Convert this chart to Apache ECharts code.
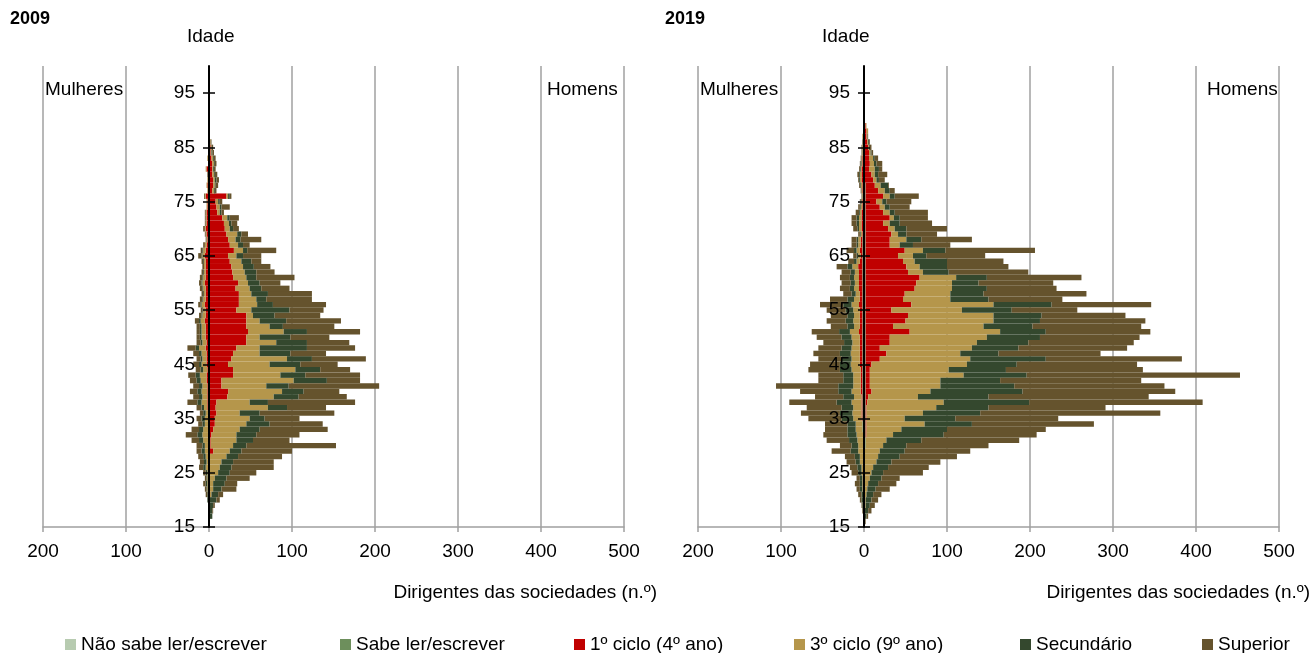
<!DOCTYPE html>
<html>
<head>
<meta charset="utf-8">
<title>Dirigentes das sociedades por idade</title>
<script src="https://cdn.jsdelivr.net/npm/echarts@6.0.0/dist/echarts.min.js"></script>
<style>
  html, body { margin: 0; padding: 0; background: #fff; }
  #chart { width: 1312px; height: 653px; }
</style>
</head>
<body>
<div id="chart"></div>
<script>
var FONT = '"Liberation Sans", Arial, sans-serif';

var names = ['Não sabe ler/escrever', 'Sabe ler/escrever', '1º ciclo (4º ano)', '3º ciclo (9º ano)', 'Secundário', 'Superior'];
var colors = ['#b7cbb0', '#6d8f5c', '#c00000', '#b5964b', '#34482e', '#65532d'];

// idade 15..100 no eixo; as séries começam nos 15 anos e acabam nos 89
var ages = [];
for (var a = 15; a <= 100; a++) ages.push(String(a));
var xTicks = [-200, -100, 0, 100, 200, 300, 400, 500];

// ---- 2009, homens (h) e mulheres (m) ----
var h09_ns = [0,0,0,0,0,0,0,0,0,0, 0,0,0,0,0,0,0,0,0,0, 0,0,0,0,0,0,0,0,0,0, 0,0,0,0,0,0,0,0,0,0,
  0,0,0,0,0,0,0,0,0,0, 0,0,0,0,0,0,0,0,0,0, 0,0,0,0,0,0,0,0,0,0, 0,0,0,0,0];
var h09_sl = [0,0,0,0,0,0,0,0,0,0, 0,0,0,0,0,0,0,0,0,0, 0,0,0,0,0,0,0,0,0,0, 0,0,0,0,0,0,0,0,0,0,
  0,0,0,1,1,1,1,1,1,1, 1,1,1,1,1,1,1,1,1,1, 1,1,1,1,1,1,1,1,0,0, 0,0,0,0,0];
var h09_c1 = [0,0,0,0,0,0,0,0,0,0,
  1,1,1,1,5,2,2,3,5,7,
  7,9,8,9,22,23,15,15,29,29,
  23,27,29,33,45,45,47,45,45,45,
  33,36,36,35,31,34,28,27,26,24,
  22,29,24,22,20,18,17,15,9,8,
  7,20,3,4,4,3,3,3,3,2,
  2,1,0,0,0];
var h09_c3 = [0,0,1,1,1,1,3,5,5,7,
  10,12,14,20,20,27,31,30,32,38,
  42,28,63,40,56,65,54,87,57,75,
  50,67,32,28,36,16,43,28,16,8,
  18,22,21,15,17,12,16,15,14,14,
  10,11,10,9,13,6,6,6,3,4,
  3,2,2,2,2,2,1,2,2,1,
  1,1,0,0,0];
var h09_sec = [0,0,3,3,4,8,8,10,14,14,
  14,14,14,14,14,16,20,24,24,28,
  18,24,23,22,30,26,27,40,30,30,
  37,30,37,57,37,37,28,16,32,26,
  46,19,12,20,14,14,12,14,13,12,
  8,5,6,6,5,4,3,3,2,2,
  2,2,1,1,2,1,1,1,1,1,
  0,0,0,0,0];
var h09_sup = [0,0,0,1,2,4,6,18,15,28,
  32,51,49,53,61,108,44,52,82,64,
  42,90,47,105,58,43,109,40,66,36,
  45,65,43,58,51,47,64,62,66,55,
  41,64,55,53,34,25,46,22,20,12,
  22,35,8,25,8,7,7,11,3,10,
  3,2,2,3,3,3,2,2,2,2,
  2,1,0,0,0];

var m09_ns = [0,0,0,0,0,0,0,0,0,0, 0,0,0,0,0,0,0,0,0,0, 0,0,0,0,0,0,0,0,0,0, 0,0,0,0,0,0,0,0,0,0,
  0,0,0,0,0,0,0,0,0,0, 0,0,0,0,0,0,0,0,0,0, 0,0,0,0,0,0,0,0,0,0, 0,0,0,0,0];
var m09_sl = [0,0,0,0,0,0,0,0,0,0,
  0,0,0,0,0,0,0,0,1,0,
  1,1,1,1,1,1,1,1,1,1,
  1,1,1,1,1,1,1,1,1,1,
  1,1,1,1,1,1,1,1,1,1,
  1,1,1,1,1,1,1,1,1,1,
  1,0,0,1,0,0,1,0,0,0,
  0,0,0,0,0];
var m09_c1 = [0,0,0,0,0,0,0,0,0,0,
  0,0,0,0,1,0,1,1,0,1,
  0,0,1,1,1,1,1,2,2,1,
  2,2,2,3,2,3,3,3,4,3,
  3,4,3,3,3,4,3,3,3,3,
  4,3,2,1,2,3,2,2,2,1,
  1,4,1,1,1,1,2,1,1,1,
  0,0,0,0,0];
var m09_c3 = [0,0,0,0,0,1,1,2,2,2,
  2,4,3,4,4,5,6,7,6,4,
  4,3,4,7,6,7,6,7,8,5,
  6,5,6,8,5,5,5,5,5,4,
  3,4,3,2,3,3,3,2,2,2,
  3,3,2,1,1,1,1,1,1,1,
  1,1,1,1,1,0,1,0,1,0,
  0,0,0,0,0];
var m09_sec = [0,0,0,0,1,1,1,1,2,1,
  2,3,3,3,4,3,5,6,5,3,
  4,3,3,5,4,5,4,5,5,3,
  3,2,3,4,2,2,2,2,2,1,
  1,1,1,1,1,1,1,1,0,1,
  1,1,0,0,0,0,0,0,0,0,
  0,0,0,0,0,0,0,0,0,0,
  0,0,0,0,0];
var m09_sup = [0,0,0,0,0,0,2,2,3,2,
  3,5,5,6,6,7,9,14,9,5,
  6,4,6,12,7,9,7,8,9,6,
  7,5,7,10,5,4,4,4,5,3,
  2,3,3,2,3,3,3,2,2,2,
  4,2,2,1,1,2,1,1,1,0,
  0,1,0,0,0,1,0,0,0,0,
  0,0,0,0,0];

// ---- 2019 ----
var h19_ns = [0,0,0,0,0,0,0,0,0,0,
  0,0,0,0,0,1,1,1,1,1,
  1,1,1,1,1,1,1,1,1,1,
  1,1,1,1,1,1,1,1,1,1,
  1,1,1,1,1,1,1,1,1,1,
  1,1,1,1,1,1,1,1,1,1,
  1,1,1,1,0,0,0,0,0,0,
  0,0,0,0,0];
var h19_sl = [0,0,0,0,0,0,0,0,0,0,
  0,0,0,0,0,1,1,1,1,1,
  1,1,1,1,1,1,1,1,1,1,
  1,1,1,1,1,1,1,1,1,1,
  1,1,1,1,1,1,1,1,1,1,
  1,1,1,1,1,1,1,1,1,1,
  1,1,1,1,1,1,1,1,0,0,
  0,0,0,0,0];
var h19_c1 = [0,0,0,0,0,0,0,0,0,0,
  0,0,0,0,0,0,0,1,1,1,
  1,1,1,2,3,7,5,5,5,5,
  7,17,25,17,29,29,53,33,48,51,
  31,55,45,47,59,61,65,51,49,45,
  39,47,29,29,31,27,21,29,21,17,
  13,21,15,11,10,8,5,6,6,6,
  5,4,3,3,2];
var h19_c3 = [0,0,1,1,2,2,3,4,5,7,
  9,11,15,17,19,21,25,32,42,70,
  46,68,84,92,60,71,85,85,113,95,
  115,109,89,111,105,117,109,109,106,103,
  85,99,57,55,45,43,44,18,16,14,
  18,22,12,20,8,8,8,5,8,6,
  7,8,8,7,4,4,7,5,5,2,
  1,1,1,2,1];
var h19_sec = [0,1,2,4,5,7,8,10,12,14,
  14,18,18,26,30,28,42,61,55,57,
  61,69,63,103,85,111,89,72,76,69,
  60,91,46,56,62,64,55,59,56,58,
  60,70,46,40,42,32,37,31,33,39,
  16,27,16,18,10,14,12,7,6,6,
  5,6,6,9,3,4,5,3,2,1,
  1,1,0,0,0];
var h19_sup = [0,1,2,4,6,8,10,17,22,22,
  48,49,59,69,79,99,118,112,119,147,
  124,217,141,209,193,184,181,170,257,165,
  145,164,123,131,127,120,126,131,127,101,
  79,120,89,124,84,90,114,96,74,68,
  71,108,45,61,37,49,39,34,40,24,
  30,29,6,1,7,11,4,7,4,2,
  2,1,1,0,0];

var m19_ns = [0,0,0,0,0,0,0,0,0,0,
  0,0,0,0,0,0,0,0,1,1,
  1,1,1,1,1,1,1,1,1,1,
  1,1,1,1,1,1,1,1,1,1,
  1,1,1,1,1,1,1,1,1,1,
  1,1,1,1,0,0,0,0,0,0,
  0,0,0,0,0,0,0,0,0,0,
  0,0,0,0,0];
var m19_sl = [0,0,0,0,0,0,0,0,0,0,
  0,0,1,1,1,1,1,1,1,1,
  1,1,1,1,1,1,1,1,1,1,
  1,1,1,1,1,1,1,1,1,1,
  1,1,1,1,1,1,1,1,1,1,
  1,1,1,1,1,1,1,1,1,1,
  1,0,1,1,1,1,1,1,1,0,
  0,0,0,0,0];
var m19_c1 = [0,0,0,0,0,0,0,0,0,0,
  0,0,0,0,0,0,0,0,0,0,
  1,1,1,1,1,2,2,2,2,2,
  3,3,3,3,3,3,4,3,3,3,
  3,4,3,3,4,4,4,4,5,3,
  2,3,2,2,1,2,2,2,2,1,
  1,1,1,1,2,2,2,1,1,1,
  1,1,1,1,0];
var m19_c3 = [0,0,0,0,1,1,1,2,2,2,
  3,3,4,4,6,6,7,8,8,8,
  10,11,10,12,9,11,9,9,9,11,
  11,10,11,10,9,10,11,7,8,7,
  8,9,7,5,6,5,6,5,7,4,
  3,4,3,3,2,3,3,3,2,2,
  1,1,1,2,2,2,1,1,1,1,
  1,0,1,0,0];
var m19_sec = [0,0,0,1,1,2,2,3,3,3,
  4,5,5,6,9,8,10,11,10,10,
  14,15,14,18,13,16,18,12,12,14,
  13,12,13,12,10,12,13,8,9,8,
  9,10,8,5,5,5,5,5,6,3,
  2,3,2,2,1,2,3,3,1,1,
  1,0,0,1,1,1,1,1,0,0,
  0,0,0,0,0];
var m19_sup = [0,0,0,1,1,2,4,4,6,4,
  8,9,11,12,23,14,27,29,27,27,
  40,47,42,57,34,46,75,30,30,38,
  36,28,32,28,25,30,33,20,23,20,
  23,28,21,10,12,11,12,11,13,7,
  4,9,6,6,2,5,6,6,4,2,
  1,1,1,1,1,2,1,1,1,1,
  1,1,0,0,0];

var myChart = echarts.init(document.getElementById('chart'), null, { renderer: 'canvas' });

function showTick(index, value) {
  return (Number(value) - 15) % 10 === 0;
}

// mulheres à esquerda (negativo), homens à direita, tudo na mesma pilha
function addPanel(series, gi, stack, mulheres, homens) {
  for (var k = 0; k < 6; k++) {
    var common = {
      name: names[k], type: 'bar', xAxisIndex: gi, yAxisIndex: gi * 2, stack: stack,
      barCategoryGap: '0%', animation: false, silent: true,
      itemStyle: { color: colors[k] }
    };
    series.push(Object.assign({}, common, {
      data: mulheres[k].map(function (v) { return v === 0 ? null : -v; })
    }));
    series.push(Object.assign({}, common, {
      data: homens[k].map(function (v) { return v === 0 ? null : v; })
    }));
  }
}

var series = [];
addPanel(series, 0, 'p2009',
  [m09_ns, m09_sl, m09_c1, m09_c3, m09_sec, m09_sup],
  [h09_ns, h09_sl, h09_c1, h09_c3, h09_sec, h09_sup]);
addPanel(series, 1, 'p2019',
  [m19_ns, m19_sl, m19_c1, m19_c3, m19_sec, m19_sup],
  [h19_ns, h19_sl, h19_c1, h19_c3, h19_sec, h19_sup]);

function xAxisFor(gi) {
  return {
    type: 'value', gridIndex: gi, min: xTicks[0], max: xTicks[xTicks.length - 1], interval: 100,
    axisLine: { show: true, onZero: false, lineStyle: { color: '#a0a0a0', width: 1.5 } },
    axisTick: { show: true, length: 5, lineStyle: { color: '#a0a0a0', width: 1.5 } },
    axisLabel: {
      color: '#000', fontSize: 19, fontFamily: FONT, margin: 15,
      formatter: function (v) { return String(Math.abs(v)); }
    },
    splitLine: { show: true, lineStyle: { color: '#a0a0a0', width: 1.5 } }
  };
}

// o eixo das idades fica no zero: 166 px à direita da borda esquerda da grelha, 415 px da direita
function yAxesFor(gi) {
  return [{
    type: 'category', gridIndex: gi, data: ages, boundaryGap: false, z: 5,
    position: 'left', offset: -166,
    axisLine: { show: true, onZero: false, lineStyle: { color: '#000', width: 2 } },
    axisTick: { show: true, interval: showTick, length: 6, lineStyle: { color: '#000', width: 1.5 } },
    axisLabel: { interval: showTick, margin: 14, color: '#000', fontSize: 19, fontFamily: FONT },
    splitLine: { show: false }
  }, {
    // segundo eixo só para os traços do lado direito
    type: 'category', gridIndex: gi, data: ages, boundaryGap: false, z: 5,
    position: 'right', offset: -415,
    axisLine: { show: false, onZero: false },
    axisTick: { show: true, interval: showTick, length: 6, lineStyle: { color: '#000', width: 1.5 } },
    axisLabel: { show: false },
    splitLine: { show: false }
  }];
}

var legendX = [60, 335, 569, 789, 1015, 1197];
var legends = names.map(function (n, i) {
  return {
    data: [n], left: legendX[i], top: 630, icon: 'rect', itemWidth: 11, itemHeight: 11,
    selectedMode: false,
    textStyle: { color: '#000', fontSize: 19, fontFamily: FONT }
  };
});

function txt(opts, text, size, bold) {
  opts.type = 'text';
  opts.style = { text: text, fill: '#000', font: (bold ? 'bold ' : '') + size + 'px ' + FONT };
  return opts;
}

var option = {
  backgroundColor: '#fff',
  animation: false,
  grid: [
    { left: 43, top: 66, width: 581, height: 461, containLabel: false, outerBoundsMode: 'none' },
    { left: 698, top: 66, width: 581, height: 461, containLabel: false, outerBoundsMode: 'none' }
  ],
  xAxis: [xAxisFor(0), xAxisFor(1)],
  yAxis: yAxesFor(0).concat(yAxesFor(1)),
  legend: legends,
  series: series,
  graphic: [
    txt({ left: 10, top: 10 }, '2009', 18, true),
    txt({ left: 665, top: 10 }, '2019', 18, true),
    txt({ left: 187, top: 27 }, 'Idade', 19),
    txt({ left: 822, top: 27 }, 'Idade', 19),
    txt({ left: 45, top: 80 }, 'Mulheres', 19),
    txt({ left: 700, top: 80 }, 'Mulheres', 19),
    txt({ left: 547, top: 80 }, 'Homens', 19),
    txt({ left: 1207, top: 80 }, 'Homens', 19),
    txt({ right: 655, top: 583 }, 'Dirigentes das sociedades (n.º)', 19),
    txt({ right: 2, top: 583 }, 'Dirigentes das sociedades (n.º)', 19)
  ]
};

myChart.setOption(option);
window.onresize = function () {
  myChart.resize();
};
</script>
</body>
</html>
